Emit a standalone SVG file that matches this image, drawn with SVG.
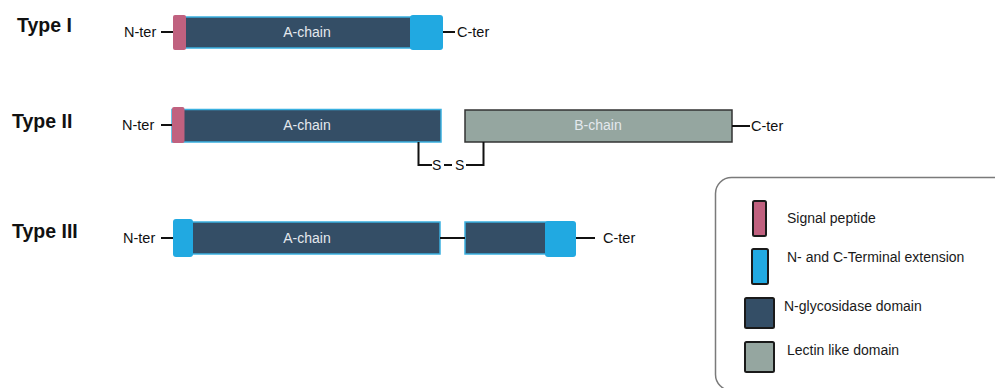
<svg xmlns="http://www.w3.org/2000/svg" width="995" height="388" viewBox="0 0 995 388">
  <style>
    .title { font-family: "Liberation Sans", Arial, sans-serif; font-weight: bold; font-size: 19.5px; fill: #111; }
    .term { font-family: "Liberation Sans", Arial, sans-serif; font-size: 14.5px; fill: #111; }
    .chain { font-family: "Liberation Sans", Arial, sans-serif; font-size: 14px; fill: #e4e9ee; text-anchor: middle; }
    .leg { font-family: "Liberation Sans", Arial, sans-serif; font-size: 14px; fill: #1a1a1a; }
    .sig { fill: #c0617f; }
    .ext { fill: #21a9e1; }
    .gly { fill: #344e66; stroke: #3ab0e0; stroke-width: 1.5; }
    .lec { fill: #95a6a0; stroke: #333; stroke-width: 1.5; }
    .link { stroke: #111; stroke-width: 2; fill: none; }
    .swatch { stroke: #1a1a1a; stroke-width: 2; }
  </style>

  <!-- Type I -->
  <g id="type1">
    <text class="title" x="17" y="32">Type I</text>
    <text class="term" x="124" y="37">N-ter</text>
    <rect class="gly" x="180" y="17" width="236" height="31"/>
    <rect class="sig" x="173" y="15" width="13" height="35" rx="2"/>
    <rect class="ext" x="410" y="15" width="33" height="35" rx="3"/>
    <text class="chain" x="307" y="37">A-chain</text>
    <text class="term" x="457" y="37">C-ter</text>
  </g>

  <!-- Type II -->
  <g id="type2">
    <text class="title" x="12" y="128">Type II</text>
    <text class="term" x="122" y="130">N-ter</text>
    <rect class="gly" x="172" y="109.5" width="269" height="32.5"/>
    <rect class="sig" x="172" y="107" width="12.5" height="36" rx="2"/>
    <text class="chain" x="307" y="130">A-chain</text>
    <rect class="lec" x="465" y="110" width="267" height="32"/>
    <text class="chain" x="598" y="130">B-chain</text>
    <text class="term" x="751" y="131">C-ter</text>
  </g>

  <!-- Type III -->
  <g id="type3">
    <text class="title" x="12" y="238">Type III</text>
    <text class="term" x="123" y="243">N-ter</text>
    <rect class="gly" x="188" y="222" width="252" height="32"/>
    <rect class="ext" x="173" y="219" width="20" height="38" rx="3"/>
    <text class="chain" x="307" y="243">A-chain</text>
    <rect class="gly" x="465" y="222" width="85" height="32"/>
    <rect class="ext" x="545" y="221" width="31" height="36" rx="3"/>
    <text class="term" x="603" y="243">C-ter</text>
  </g>

  <!-- connectors, including the S-S bridge between the chains -->
  <g id="connectors">
    <line class="link" x1="161" y1="32" x2="173" y2="32"/>
    <line class="link" x1="443" y1="32" x2="455" y2="32"/>
    <line class="link" x1="161" y1="125" x2="172" y2="125"/>
    <line class="link" x1="732" y1="126" x2="750" y2="126"/>
    <polyline class="link" points="418.5,142 418.5,165 432,165"/>
    <text class="term" x="432" y="170" style="font-size:14px">S</text>
    <line class="link" x1="444" y1="165" x2="452" y2="165"/>
    <text class="term" x="455" y="170" style="font-size:14px">S</text>
    <polyline class="link" points="466,165 483.5,165 483.5,142"/>
    <line class="link" x1="161" y1="238" x2="173" y2="238"/>
    <line class="link" x1="440" y1="238" x2="465" y2="238"/>
    <line class="link" x1="576" y1="238" x2="595" y2="238"/>
  </g>

  <!-- legend -->
  <g id="legend">
    <rect x="715.5" y="177.5" width="300" height="213" rx="16" fill="none" stroke="#7a7a7a" stroke-width="1.5"/>
    <rect class="sig swatch" x="753" y="201" width="13" height="35" rx="1.5"/>
    <text class="leg" x="787" y="223">Signal peptide</text>
    <rect class="ext swatch" x="752" y="249" width="16" height="35" rx="1.5"/>
    <text class="leg" x="787" y="262">N- and C-Terminal extension</text>
    <rect x="745" y="298" width="29" height="30" rx="1.5" fill="#344e66" class="swatch"/>
    <text class="leg" x="784" y="311">N-glycosidase domain</text>
    <rect x="745" y="342" width="29" height="30" rx="1.5" fill="#95a6a0" class="swatch"/>
    <text class="leg" x="787" y="355">Lectin like domain</text>
  </g>
</svg>
